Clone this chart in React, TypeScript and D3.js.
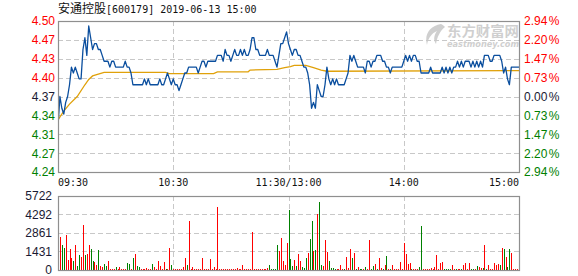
import React from "react";
import * as d3 from "d3";

const title = "安通控股";
const titleRest = "[600179] 2019-06-13 15:00";
const prevClose = 4.37;
const maxPct = 0.0294;
const priceTickLabels = ["4.50", "4.47", "4.43", "4.40", "4.37", "4.34", "4.31", "4.27", "4.24"];
const pctTickLabels = ["2.94", "2.20", "1.47", "0.73", "0.00", "0.73", "1.47", "2.20", "2.94"];
const timeLabels = ["09:30", "10:30", "11:30/13:00", "14:00", "15:00"];
const timeIdx = [0, 60, 120, 180, 240];
const volMax = 5722;
const volTickValues = [5722, 4292, 2861, 1431, 0];

const prices = [
  4.32, 4.37, 4.35, 4.34, 4.36, 4.37, 4.39, 4.42, 4.41, 4.42,
  4.41, 4.40, 4.40, 4.45, 4.47, 4.44, 4.49, 4.47, 4.45, 4.46,
  4.46, 4.45, 4.45, 4.44, 4.43, 4.43, 4.43, 4.42, 4.43, 4.43,
  4.42, 4.42, 4.42, 4.42, 4.42, 4.43, 4.42, 4.42, 4.41, 4.39,
  4.39, 4.39, 4.39, 4.39, 4.39, 4.40, 4.39, 4.40, 4.39, 4.39,
  4.39, 4.39, 4.39, 4.40, 4.39, 4.39, 4.40, 4.41, 4.40, 4.39,
  4.40, 4.39, 4.39, 4.38, 4.39, 4.40, 4.41, 4.41, 4.42, 4.42,
  4.42, 4.42, 4.42, 4.41, 4.42, 4.43, 4.43, 4.42, 4.43, 4.43,
  4.43, 4.43, 4.43, 4.44, 4.44, 4.44, 4.43, 4.45, 4.44, 4.44,
  4.43, 4.44, 4.45, 4.44, 4.44, 4.45, 4.44, 4.45, 4.44, 4.44,
  4.45, 4.47, 4.47, 4.45, 4.45, 4.44, 4.44, 4.44, 4.44, 4.45,
  4.44, 4.44, 4.44, 4.43, 4.42, 4.44, 4.46, 4.46, 4.47, 4.48,
  4.46, 4.45, 4.44, 4.45, 4.45, 4.44, 4.44, 4.43, 4.42, 4.42,
  4.41, 4.39, 4.35, 4.36, 4.35, 4.39, 4.38, 4.37, 4.37, 4.39,
  4.42, 4.40, 4.39, 4.40, 4.39, 4.40, 4.39, 4.39, 4.39, 4.39,
  4.40, 4.41, 4.44, 4.43, 4.44, 4.43, 4.42, 4.42, 4.42, 4.42,
  4.41, 4.43, 4.43, 4.42, 4.43, 4.43, 4.44, 4.44, 4.44, 4.43,
  4.43, 4.42, 4.42, 4.41, 4.42, 4.42, 4.42, 4.42, 4.42, 4.42,
  4.43, 4.44, 4.43, 4.44, 4.43, 4.44, 4.44, 4.43, 4.43, 4.41,
  4.41, 4.41, 4.41, 4.41, 4.42, 4.41, 4.41, 4.41, 4.41, 4.41,
  4.42, 4.41, 4.42, 4.41, 4.42, 4.41, 4.42, 4.42, 4.43, 4.42,
  4.43, 4.42, 4.43, 4.43, 4.43, 4.42, 4.43, 4.42, 4.43, 4.42,
  4.43, 4.42, 4.44, 4.44, 4.44, 4.43, 4.43, 4.44, 4.44, 4.44,
  4.44, 4.43, 4.41, 4.42, 4.40, 4.39, 4.42, 4.42, 4.42, 4.42,
  4.42,
];

const avgIdx = [0, 3, 6, 10, 14, 16, 18, 21, 24, 56, 58, 81, 83, 99, 100, 114, 118, 121, 123, 129, 133, 137, 140, 240];
const avgVal = [4.33, 4.345, 4.357, 4.37, 4.39, 4.399, 4.405, 4.408, 4.411, 4.411, 4.409, 4.409, 4.412, 4.412, 4.415, 4.416, 4.419, 4.421, 4.423, 4.423, 4.419, 4.415, 4.413, 4.414];

const volumes = [
  0, 2551, 1907, 1700, 2706, 773, 1623, 953, 696, 1907,
  309, 1160, 1005, 3479, 1160, 1237, 1932, 1649, 696, 618,
  386, 1546, 283, 232, 464, 309, 696, 103, 103, 103,
  232, 77, 206, 103, 77, 77, 541, 490, 100, 953,
  1237, 309, 232, 103, 103, 103, 155, 103, 103, 464,
  206, 103, 696, 309, 100, 618, 77, 77, 1700, 386,
  77, 77, 77, 77, 77, 232, 953, 386, 3788, 103,
  232, 77, 77, 77, 77, 953, 77, 77, 77, 850,
  77, 232, 77, 4870, 77, 77, 77, 77, 77, 77,
  77, 77, 77, 155, 77, 77, 386, 77, 77, 77,
  77, 2938, 77, 77, 77, 77, 77, 77, 77, 155,
  386, 103, 103, 103, 1932, 1469, 2474, 696, 386, 2087,
  4664, 876, 309, 773, 309, 1237, 696, 232, 155, 928,
  1314, 2397, 3788, 1469, 1546, 4329, 5257, 386, 309, 2319,
  1391, 696, 155, 155, 77, 77, 77, 386, 77, 77,
  1005, 155, 1623, 928, 1314, 77, 232, 77, 77, 77,
  232, 77, 2319, 77, 309, 464, 77, 928, 155, 77,
  386, 1082, 77, 77, 386, 77, 77, 77, 618, 77,
  2087, 1237, 464, 541, 77, 77, 77, 77, 232, 3401,
  77, 77, 77, 77, 155, 77, 232, 1160, 77, 541,
  618, 77, 77, 77, 77, 386, 77, 77, 77, 77,
  77, 386, 541, 77, 541, 77, 77, 77, 309, 232,
  155, 155, 1932, 77, 386, 77, 77, 541, 386, 464,
  386, 1700, 1623, 1005, 232, 1623, 1314, 77, 50, 50,
  1237,
];

const volUp = [
  1, 1, 0, 0, 1, 1, 1, 1, 0, 1,
  0, 0, 1, 1, 0, 1, 1, 0, 0, 1,
  1, 0, 1, 1, 0, 0, 1, 1, 1, 1,
  0, 1, 1, 1, 1, 1, 0, 0, 1, 0,
  1, 0, 0, 1, 1, 1, 1, 1, 1, 0,
  1, 1, 1, 1, 1, 1, 0, 1, 1, 0,
  1, 1, 1, 1, 1, 1, 1, 0, 1, 1,
  1, 1, 1, 1, 1, 1, 1, 1, 1, 1,
  1, 1, 1, 1, 1, 1, 1, 1, 1, 1,
  1, 1, 1, 1, 1, 1, 1, 1, 1, 1,
  1, 1, 1, 1, 1, 1, 1, 1, 1, 1,
  0, 0, 0, 0, 0, 1, 1, 1, 1, 1,
  0, 0, 0, 1, 0, 1, 1, 0, 0, 0,
  1, 0, 0, 1, 0, 1, 0, 0, 1, 1,
  1, 0, 0, 0, 0, 1, 1, 1, 1, 0,
  1, 1, 1, 0, 1, 0, 1, 0, 0, 1,
  0, 1, 1, 0, 0, 1, 0, 1, 1, 0,
  1, 0, 1, 0, 1, 1, 1, 1, 1, 1,
  1, 1, 1, 1, 0, 1, 1, 1, 0, 0,
  1, 1, 1, 1, 1, 1, 1, 1, 1, 1,
  1, 0, 0, 0, 0, 1, 1, 0, 1, 1,
  0, 1, 1, 1, 1, 0, 0, 1, 0, 1,
  1, 0, 1, 0, 1, 1, 1, 1, 1, 1,
  0, 1, 0, 1, 0, 0, 1, 1, 1, 1,
  1,
];

const W = 578;
const H = 276;
const L = 58;
const R = 519;
const PT = 21;
const PB = 172;
const VT = 196;
const VB = 270;

const RED = "#ff0000";
const GREEN = "#008000";
const DARK = "#1a1a33";
const GRID = "#c8c8c8";
const FRAME = "#8f8f8f";
const AXIS_FONT = "'Liberation Sans', Arial, sans-serif";
const MONO = "'DejaVu Sans Mono', 'Liberation Mono', monospace";

export default function App() {
  const x = d3.scaleLinear().domain([0, 240]).range([L, R]);
  const dev = prevClose * maxPct;
  const y = d3.scaleLinear().domain([prevClose - dev, prevClose + dev]).range([PB, PT]);
  const yv = d3.scaleLinear().domain([0, volMax]).range([VB, VT]);
  const tickVals = d3.range(4, -5, -1).map((k) => prevClose + (k * dev) / 4);

  const priceLine = d3
    .line<number>()
    .x((_, i) => x(i))
    .y((d) => y(d))(prices) as string;
  const avgLine = d3
    .line<number>()
    .x((_, i) => x(avgIdx[i]))
    .y((d) => y(d))(avgVal) as string;

  const labelColor = (k: number) => (k < 4 ? RED : k === 4 ? DARK : GREEN);

  return (
    <svg
      width={W}
      height={H}
      style={{ position: "absolute", left: 0, top: 0, background: "#fff" }}
    >
      <rect x={0} y={0} width={W} height={H} fill="#fff" />
      {/* title */}
      <text x={58} y={12.5} fill="#111" fontSize={12}>
        <tspan fontFamily="'Noto Sans CJK SC', sans-serif">{title}</tspan>
        <tspan fontFamily={MONO} fontSize={10}>{titleRest}</tspan>
      </text>

      {/* watermark */}
      <g opacity={0.55}>
        <path
          d="M441,24 C430,26 424,34 427,45 C428,38 432,33 437,31 C434,35 433,40 436,44 C437,37 440,31 445,27 C444,26 443,25 441,24 Z"
          fill="#a9a9a9"
        />
        <text x={447} y={35.5} fontFamily="'Noto Sans CJK SC', sans-serif" fontWeight="bold" fontSize={13.5} fill="#a9a9a9" textLength={72} lengthAdjust="spacingAndGlyphs">
          东方财富网
        </text>
        <text x={447} y={46.5} fontFamily="'DejaVu Sans', sans-serif" fontWeight="bold" fontStyle="italic" fontSize={8.5} fill="#a9a9a9" textLength={72} lengthAdjust="spacingAndGlyphs">
          eastmoney.com
        </text>
      </g>

      {/* price grid */}
      {tickVals.slice(1, 8).map((v, k) => (
        <line key={"hg" + k} x1={L} x2={R} y1={Math.round(y(v)) + 0.5} y2={Math.round(y(v)) + 0.5} stroke={GRID} strokeDasharray="5,3" />
      ))}
      {timeIdx.slice(1, 4).map((t) => (
        <line key={"vg" + t} x1={Math.round(x(t)) + 0.5} x2={Math.round(x(t)) + 0.5} y1={PT} y2={PB} stroke={GRID} strokeDasharray="5,3" />
      ))}

      {/* lines */}
      <defs>
        <clipPath id="pclip">
          <rect x={L} y={PT} width={R - L} height={PB - PT} />
        </clipPath>
      </defs>
      <g clipPath="url(#pclip)">
        <path d={avgLine} fill="none" stroke="#e0a10a" strokeWidth={1.3} />
        <path d={priceLine} fill="none" stroke="#0a4e9e" strokeWidth={1.3} strokeLinejoin="round" />
      </g>
      <rect x={L + 0.5} y={PT + 0.5} width={R - L} height={PB - PT} fill="none" stroke={FRAME} strokeWidth={1.2} />

      {/* price axis labels */}
      {tickVals.map((v, k) => (
        <text key={"pl" + k} x={55} y={y(v) + 4.4} textAnchor="end" fontFamily={AXIS_FONT} fontSize={12} fill={labelColor(k)}>
          {priceTickLabels[k]}
        </text>
      ))}
      {tickVals.map((v, k) => (
        <text key={"pr" + k} x={524} y={y(v) + 4.4} fontFamily={AXIS_FONT} fontSize={12} fill={labelColor(k)}>
          {pctTickLabels[k]}
          <tspan dx={1.5}>%</tspan>
        </text>
      ))}

      {/* time labels */}
      {timeIdx.map((t, k) => (
        <text
          key={"tl" + k}
          x={x(t)}
          y={185.5}
          textAnchor={k === 0 ? "start" : k === 4 ? "end" : "middle"}
          fontFamily={MONO}
          fontSize={10}
          fill="#111"
        >
          {timeLabels[k]}
        </text>
      ))}

      {/* volume grid */}
      {volTickValues.slice(1, 4).map((v) => (
        <line key={"vh" + v} x1={L} x2={R} y1={Math.round(yv(v)) + 0.5} y2={Math.round(yv(v)) + 0.5} stroke={GRID} strokeDasharray="5,3" />
      ))}
      {timeIdx.slice(1, 4).map((t) => (
        <line key={"vv" + t} x1={Math.round(x(t)) + 0.5} x2={Math.round(x(t)) + 0.5} y1={VT} y2={VB} stroke={GRID} strokeDasharray="5,3" />
      ))}

      {/* volume bars */}
      {volumes.map((v, i) =>
        v > 0 ? (
          <rect
            key={"vb" + i}
            x={Math.round(x(i))}
            y={yv(v)}
            width={1}
            height={VB - yv(v)}
            fill={volUp[i] ? RED : GREEN}
            shapeRendering="crispEdges"
          />
        ) : null
      )}
      <rect x={L + 0.5} y={VT + 0.5} width={R - L} height={VB - VT} fill="none" stroke={FRAME} strokeWidth={1.2} />

      {volTickValues.map((v) => (
        <text key={"vl" + v} x={52} y={yv(v) + 4.4} textAnchor="end" fontFamily={AXIS_FONT} fontSize={12} fill={DARK}>
          {v}
        </text>
      ))}
    </svg>
  );
}
